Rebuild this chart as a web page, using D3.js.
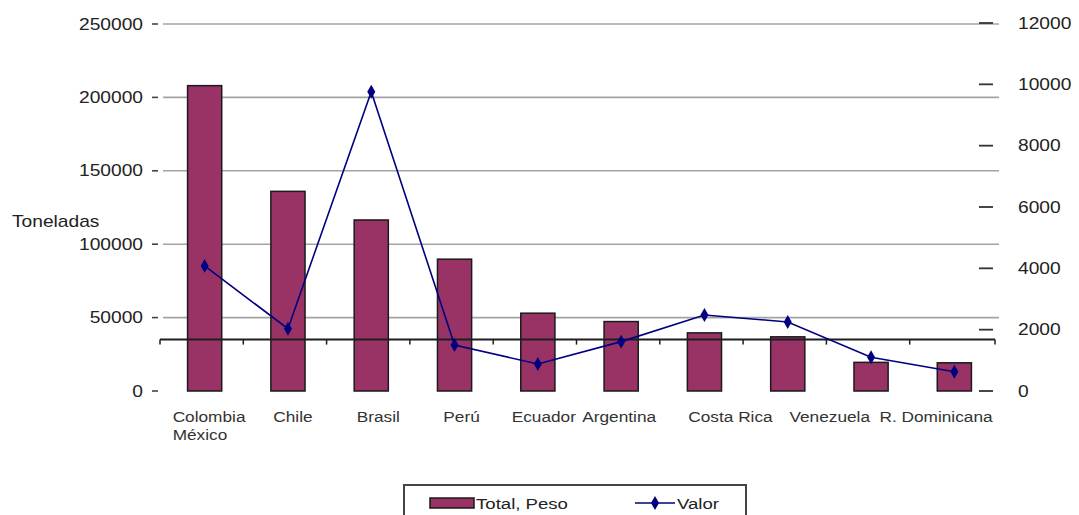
<!DOCTYPE html>
<html>
<head>
<meta charset="utf-8">
<script src="https://cdn.jsdelivr.net/npm/d3@7"></script>
<style>
  body { margin: 0; background: #fff; }
  svg { display: block; font-family: "Liberation Sans", Arial, sans-serif; }
</style>
</head>
<body>
<div id="chart"></div>
<script>
// data
var categories = ["Colombia", "México", "Chile", "Brasil", "Perú", "Ecuador",
                  "Argentina", "Costa Rica", "Venezuela", "R. Dominicana"];
var peso = [208000, 136000, 116500, 89800, 53000, 47300, 39600, 36900, 19500, 19200];
var valor = [4080, 2030, 9760, 1500, 880, 1610, 2480, 2250, 1100, 630];
var leftTicks = [0, 50000, 100000, 150000, 200000, 250000];
var rightTicks = [0, 2000, 4000, 6000, 8000, 10000, 12000];
// axis labels as printed under the bars (one per bar except the last)
var xLabels = [["Colombia", "México"], ["Chile"], ["Brasil"], ["Perú"], ["Ecuador"],
               ["Argentina"], ["Costa Rica"], ["Venezuela"], ["R. Dominicana"]];
var crossValue = 35000; // where the category axis line crosses

// layout
var W = 1079, H = 515;
var plot = { left: 160, right: 995, top: 24, bottom: 391 };
var labelNudge = [-32, 5, 7, 7, 6, -2, 26, 42, 65]; // px, label shift from bar centre
var sx = 1.2; // the picture's text is stretched horizontally

var svg = d3.select("#chart").append("svg")
  .attr("width", W).attr("height", H);

var x = d3.scaleBand().domain(categories).range([plot.left, plot.right - 2]);
var yL = d3.scaleLinear().domain([0, 250000]).range([plot.bottom, plot.top]);
var yR = d3.scaleLinear().domain([0, 12000]).range([plot.bottom, plot.top - 1]);
var barW = x.bandwidth() * 0.41;
var cx = function(c) { return x(c) + x.bandwidth() / 2 + 3; };

// stretched text helper
function label(sel, tx, ty, str, size, anchor, fill, stretch) {
  var g = sel.append("g").attr("transform", "translate(" + tx + "," + ty + ") scale(" + (stretch || sx) + ",1)");
  g.append("text")
    .attr("text-anchor", anchor || "start")
    .attr("font-size", size)
    .attr("fill", fill || "#222")
    .text(str);
  return g;
}

// gridlines
svg.append("g").selectAll("line")
  .data(leftTicks.filter(function(d) { return d > 0; }))
  .enter().append("line")
    .attr("x1", plot.left + 3).attr("x2", plot.right + 4)
    .attr("y1", function(d) { return yL(d); })
    .attr("y2", function(d) { return yL(d); })
    .attr("stroke", "#a3a3a3").attr("stroke-width", 1.6);

// left axis: small dashes and labels
var gl = svg.append("g");
gl.selectAll("line").data(leftTicks).enter().append("line")
  .attr("x1", 152).attr("x2", 158)
  .attr("y1", function(d) { return yL(d); }).attr("y2", function(d) { return yL(d); })
  .attr("stroke", "#444").attr("stroke-width", 1.6);
leftTicks.forEach(function(t) {
  label(gl, 143, yL(t) + 5.5, t, 16, "end");
});
label(svg, 12, 227, "Toneladas", 16, "start");

// right axis
var gr = svg.append("g");
gr.selectAll("line").data(rightTicks).enter().append("line")
  .attr("x1", 979).attr("x2", 993)
  .attr("y1", function(d) { return yR(d); }).attr("y2", function(d) { return yR(d); })
  .attr("stroke", "#333").attr("stroke-width", 1.8);
rightTicks.forEach(function(t) {
  label(gr, 1018, yR(t) + 5.5, t, 16, "start");
});

// bars
svg.append("g").selectAll("rect")
  .data(categories)
  .enter().append("rect")
    .attr("x", function(c) { return cx(c) - barW / 2; })
    .attr("y", function(c, i) { return yL(peso[i]); })
    .attr("width", barW)
    .attr("height", function(c, i) { return yL(0) - yL(peso[i]); })
    .attr("fill", "#993366")
    .attr("stroke", "#1a1a1a").attr("stroke-width", 1.5);

// category axis line at the crossing value
var yc = yL(crossValue);
var gx = svg.append("g");
gx.append("line")
  .attr("x1", plot.left).attr("x2", plot.right)
  .attr("y1", yc).attr("y2", yc)
  .attr("stroke", "#1e1e1e").attr("stroke-width", 2);
var bounds = categories.map(function(c) { return x(c); }).concat([plot.right]);
gx.selectAll(".tk").data(bounds).enter().append("line")
  .attr("class", "tk")
  .attr("x1", function(d) { return d; }).attr("x2", function(d) { return d; })
  .attr("y1", yc).attr("y2", yc + 5)
  .attr("stroke", "#1e1e1e").attr("stroke-width", 1.5);

// value line
var line = d3.line()
  .x(function(d, i) { return cx(categories[i]); })
  .y(function(d) { return yR(d); });
svg.append("path")
  .datum(valor)
  .attr("d", line)
  .attr("fill", "none")
  .attr("stroke", "#000080").attr("stroke-width", 1.6);
var diamond = d3.symbol().type(d3.symbolDiamond).size(56);
svg.append("g").selectAll("path")
  .data(valor)
  .enter().append("path")
    .attr("d", diamond)
    .attr("transform", function(d, i) { return "translate(" + cx(categories[i]) + "," + yR(d) + ")"; })
    .attr("fill", "#000080");

// category labels
xLabels.forEach(function(lines, i) {
  var px = cx(categories[i]) + labelNudge[i];
  lines.forEach(function(s, j) {
    label(svg, px, 422 + j * 18, s, 15, i === 0 ? "start" : "middle", "#333", 1.15);
  });
});

// legend
var lg = svg.append("g");
lg.append("rect")
  .attr("x", 404).attr("y", 485).attr("width", 342).attr("height", 40)
  .attr("fill", "#fff").attr("stroke", "#444").attr("stroke-width", 2);
lg.append("rect")
  .attr("x", 430).attr("y", 498).attr("width", 44).attr("height", 10)
  .attr("fill", "#993366").attr("stroke", "#1a1a1a").attr("stroke-width", 1.5);
label(lg, 476, 509, "Total, Peso", 15.5, "start");
lg.append("line")
  .attr("x1", 635).attr("x2", 675).attr("y1", 503).attr("y2", 503)
  .attr("stroke", "#000080").attr("stroke-width", 1.6);
lg.append("path")
  .attr("d", diamond)
  .attr("transform", "translate(655,503)")
  .attr("fill", "#000080");
label(lg, 677, 509, "Valor", 15.5, "start");
</script>
</body>
</html>
